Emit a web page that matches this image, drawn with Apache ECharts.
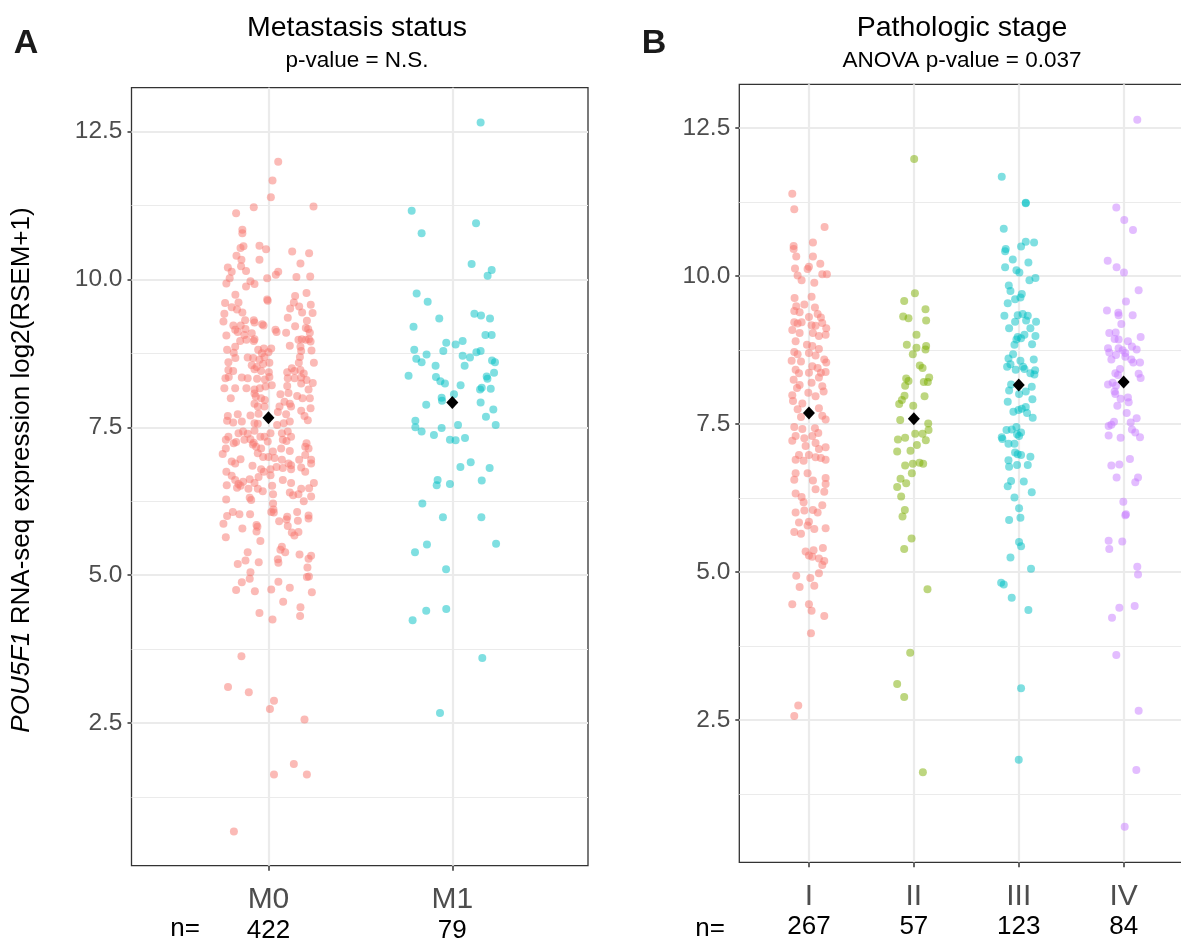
<!DOCTYPE html>
<html>
<head>
<meta charset="utf-8">
<script src="https://cdn.jsdelivr.net/npm/echarts@6/dist/echarts.min.js"></script>
<style>html,body{margin:0;padding:0;background:#fff}#c{width:1181px;height:941px}</style>
</head>
<body>
<div id="c"></div>
<script>
// ---------- DATA ----------
const categoriesA = ['M0', 'M1'];
const countsA = [422, 79];
const meansA = [7.66, 7.92];
const colorsA = ['#F8766D', '#00BFC4'];

const categoriesB = ['I', 'II', 'III', 'IV'];
const countsB = [267, 57, 123, 84];
const meansB = [7.69, 7.59, 8.16, 8.21];
const colorsB = ['#F8766D', '#7CAE00', '#00BFC4', '#C77CFF'];

const yTickValues = [2.5, 5, 7.5, 10, 12.5];
const yTickLabels = ['2.5', '5.0', '7.5', '10.0', '12.5'];
const yMinorValues = [1.25, 3.75, 6.25, 8.75, 11.25];

// [jitter offset, expression]
const m0Points = [
[0.053,11.99],[0.022,11.67],[0.013,11.39],[-0.080,11.22],[0.245,11.23],[-0.176,11.12],[-0.142,10.84],[-0.142,10.78],[-0.136,10.56],[-0.152,10.53],[-0.049,10.57],[-0.013,10.51],[0.129,10.47],[0.221,10.44],[-0.174,10.40],[-0.147,10.33],[-0.049,10.33],[0.174,10.27],[-0.149,10.22],[-0.221,10.20],[-0.122,10.14],[-0.200,10.13],[0.053,10.13],[0.040,10.08],[0.152,10.04],[0.227,10.05],[-0.007,10.02],[-0.211,10.02],[-0.229,9.93],[-0.098,9.97],[-0.076,9.92],[-0.122,9.88],[-0.180,9.74],[0.145,9.72],[0.207,9.77],[-0.163,9.61],[-0.007,9.66],[-0.004,9.64],[-0.236,9.60],[0.138,9.61],[0.167,9.54],[0.230,9.57],[-0.200,9.53],[-0.171,9.49],[-0.142,9.44],[0.118,9.51],[0.183,9.44],[0.240,9.43],[-0.240,9.42],[0.105,9.35],[-0.127,9.31],[-0.080,9.31],[-0.076,9.27],[-0.245,9.29],[0.209,9.30],[-0.191,9.22],[-0.151,9.22],[-0.034,9.24],[-0.027,9.22],[0.145,9.21],[0.038,9.15],[0.044,9.11],[0.203,9.18],[0.216,9.16],[-0.181,9.15],[-0.125,9.16],[-0.167,9.11],[0.096,9.10],[-0.229,9.05],[-0.131,9.06],[-0.091,9.09],[0.225,9.10],[-0.076,8.99],[-0.080,8.96],[0.181,8.99],[0.163,8.98],[0.203,8.98],[0.220,8.99],[0.229,8.95],[-0.154,8.96],[-0.120,8.98],[-0.181,8.86],[0.116,8.88],[-0.025,8.83],[0.015,8.83],[0.174,8.86],[-0.225,8.81],[-0.189,8.76],[-0.056,8.81],[-0.036,8.75],[0.000,8.77],[0.178,8.79],[0.234,8.80],[-0.022,8.69],[-0.113,8.68],[-0.083,8.67],[0.171,8.69],[-0.180,8.67],[-0.218,8.60],[-0.049,8.64],[0.005,8.59],[0.127,8.50],[0.165,8.59],[0.247,8.59],[-0.091,8.55],[-0.064,8.52],[-0.029,8.57],[-0.218,8.47],[-0.192,8.45],[-0.076,8.48],[-0.040,8.45],[0.002,8.43],[0.102,8.43],[0.142,8.45],[0.174,8.47],[0.192,8.41],[-0.234,8.33],[-0.216,8.35],[-0.145,8.34],[-0.113,8.33],[-0.062,8.32],[-0.020,8.31],[0.005,8.35],[0.105,8.33],[0.142,8.33],[0.178,8.34],[0.207,8.30],[0.241,8.25],[-0.240,8.16],[-0.181,8.16],[-0.120,8.16],[-0.076,8.14],[-0.047,8.16],[-0.016,8.19],[0.018,8.21],[0.102,8.20],[0.178,8.24],[0.218,8.14],[-0.205,7.99],[-0.076,8.07],[-0.069,8.02],[-0.040,7.99],[-0.020,7.96],[0.065,8.06],[0.109,8.08],[0.156,8.03],[0.185,7.99],[0.225,7.99],[-0.076,7.90],[-0.058,7.85],[-0.022,7.85],[0.087,7.93],[0.116,7.90],[0.123,7.85],[0.060,7.85],[0.229,7.82],[-0.221,7.69],[-0.167,7.72],[-0.098,7.70],[-0.054,7.73],[0.051,7.76],[0.096,7.72],[0.178,7.78],[0.196,7.69],
[-0.192,7.58],[-0.145,7.60],[-0.225,7.61],[-0.076,7.57],[-0.058,7.56],[0.047,7.54],[0.083,7.57],[0.116,7.60],[0.214,7.62],[-0.076,7.44],[-0.163,7.40],[-0.138,7.43],[-0.113,7.39],[-0.232,7.29],[-0.218,7.34],[-0.189,7.23],[-0.176,7.25],[-0.131,7.29],[-0.098,7.30],[-0.080,7.24],[-0.044,7.34],[-0.022,7.34],[0.011,7.40],[0.073,7.40],[0.105,7.43],[0.123,7.34],[0.078,7.29],[0.098,7.27],[-0.249,7.05],[-0.232,7.14],[-0.085,7.21],[-0.067,7.17],[-0.040,7.14],[-0.004,7.26],[0.024,7.09],[0.069,7.14],[0.116,7.10],[0.200,7.17],[0.207,7.23],[0.218,7.14],[-0.200,6.92],[-0.181,6.89],[-0.152,6.96],[-0.058,7.06],[-0.029,7.00],[0.000,7.00],[0.033,6.98],[0.073,6.95],[0.109,6.89],[0.167,6.95],[0.200,7.03],[0.232,6.95],[0.232,6.89],[-0.087,6.85],[-0.040,6.79],[-0.025,6.75],[0.011,6.79],[0.044,6.83],[0.078,6.81],[0.123,6.86],[0.123,6.79],[0.200,6.75],[0.178,6.82],[-0.229,6.75],[-0.200,6.68],[-0.054,6.66],[0.011,6.69],[-0.181,6.61],[-0.163,6.54],[-0.138,6.58],[-0.102,6.62],[-0.076,6.56],[0.078,6.61],[0.123,6.56],[0.247,6.56],[-0.227,6.52],[-0.171,6.48],[-0.152,6.51],[-0.109,6.46],[-0.058,6.46],[-0.031,6.42],[0.020,6.51],[0.116,6.40],[0.134,6.35],[0.178,6.46],[0.221,6.47],[0.163,6.37],[0.025,6.37],[-0.102,6.31],[-0.094,6.27],[0.232,6.33],[-0.230,6.28],[0.192,6.25],[0.025,6.21],[0.027,6.11],[0.015,6.07],[-0.225,6.00],[-0.194,6.07],[-0.158,6.03],[-0.100,6.03],[0.029,6.06],[0.102,5.99],[0.156,6.07],[0.218,6.01],[0.218,5.96],[-0.245,5.87],[0.058,5.91],[0.160,5.92],[0.098,5.94],[-0.065,5.85],[-0.060,5.82],[-0.142,5.79],[-0.065,5.74],[0.105,5.83],[0.127,5.72],[0.141,5.67],[0.163,5.73],[-0.232,5.64],[-0.044,5.58],[0.073,5.48],[0.065,5.43],[0.091,5.39],[-0.113,5.39],[0.169,5.35],[0.232,5.33],[0.218,5.28],[0.051,5.27],[0.054,5.21],[-0.167,5.19],[-0.125,5.25],[-0.053,5.22],[0.212,5.13],[-0.098,5.05],[-0.102,4.94],[0.209,4.97],[0.220,4.98],[-0.145,4.88],[0.054,4.89],[0.116,4.79],[-0.176,4.75],[-0.074,4.73],[0.015,4.76],[0.236,4.71],[0.080,4.55],[0.174,4.46],[-0.049,4.36],[0.172,4.31],[0.022,4.25],
[-0.147,3.63],[-0.220,3.11],[-0.107,3.02],[0.030,2.88],[0.008,2.74],[0.196,2.56],[0.138,1.81],[0.030,1.63],[0.209,1.63],[-0.188,0.67]
];

const m1Points = [
[0.154,12.65],[-0.221,11.16],[-0.167,10.78],[0.129,10.95],[0.105,10.26],[0.214,10.16],[0.192,10.06],[-0.194,9.76],[-0.134,9.62],[-0.211,9.20],[-0.071,9.34],[0.120,9.42],[0.156,9.39],[0.205,9.34],[0.180,9.06],[0.214,9.06],[-0.033,8.93],[0.018,8.90],[0.056,8.96],[-0.207,8.81],[-0.049,8.79],[0.131,8.77],[0.154,8.79],[-0.196,8.66],[-0.140,8.73],[-0.167,8.60],[0.056,8.71],[0.096,8.68],[0.067,8.54],[-0.091,8.54],[0.216,8.63],[0.232,8.60],[0.227,8.42],[-0.238,8.37],[-0.089,8.35],[-0.065,8.28],[-0.040,8.24],[0.187,8.36],[0.191,8.32],[0.160,8.17],[0.151,8.14],[0.209,8.15],[0.045,8.21],[-0.058,8.00],[-0.056,7.95],[0.009,8.06],[-0.142,7.88],[0.154,7.92],[0.223,7.80],[0.183,7.68],[0.236,7.54],[-0.201,7.61],[-0.201,7.50],[-0.167,7.43],[-0.100,7.37],[-0.058,7.49],[0.031,7.54],[-0.013,7.29],[0.018,7.28],[0.069,7.32],[0.044,6.83],[0.100,6.91],[0.203,6.81],[-0.080,6.61],[-0.085,6.52],[-0.013,6.54],[0.160,6.60],[-0.163,6.21],[-0.051,5.98],[0.158,5.98],[-0.138,5.52],[-0.203,5.39],[0.238,5.53],[-0.034,5.10],[-0.142,4.40],[-0.033,4.43],[-0.216,4.24],[0.163,3.60],[-0.067,2.67]
];

const stage1Points = [
[-0.159,11.39],[-0.140,11.13],[0.149,10.83],[0.038,10.57],[-0.146,10.51],[-0.146,10.46],[-0.121,10.33],[0.038,10.33],[0.108,10.21],[-0.133,10.13],[-0.013,10.12],[0.000,10.16],[-0.108,10.01],[0.127,10.03],[0.171,10.03],[-0.070,9.93],[0.051,9.89],[0.025,9.65],[-0.137,9.63],[-0.121,9.49],[-0.044,9.52],[0.057,9.47],[-0.140,9.41],[-0.089,9.39],[0.083,9.36],[0.000,9.31],[0.114,9.30],[-0.140,9.22],[-0.108,9.20],[-0.070,9.22],[0.025,9.17],[0.063,9.16],[0.127,9.21],[0.165,9.12],[-0.159,9.09],[-0.089,9.04],[0.038,9.04],[0.095,8.99],[0.159,9.01],[-0.127,8.90],[-0.019,8.84],[0.032,8.82],[0.095,8.77],[-0.140,8.72],[-0.108,8.68],[0.000,8.70],[0.063,8.66],[0.146,8.59],[0.165,8.54],[-0.165,8.57],[-0.076,8.56],[0.032,8.48],[0.083,8.45],[-0.127,8.42],[-0.095,8.36],[0.114,8.37],[0.159,8.38],[0.000,8.37],[0.095,8.29],[-0.146,8.25],[-0.089,8.16],[0.025,8.20],[0.127,8.14],[-0.114,8.11],[0.140,8.05],[-0.159,7.99],[-0.006,8.03],[0.063,7.97],[-0.152,7.89],[-0.063,7.85],[-0.108,7.75],[0.095,7.77],[0.127,7.64],[-0.076,7.62],[0.159,7.58],[-0.140,7.45],[-0.063,7.42],[0.057,7.43],[0.089,7.35],[-0.127,7.30],[-0.044,7.26],[0.032,7.30],[0.063,7.18],[-0.159,7.22],[-0.032,7.13],[0.095,7.08],[0.159,7.11],[-0.095,6.98],[0.000,6.98],[0.063,6.94],[-0.127,6.90],[-0.051,6.88],[0.114,6.93],[0.159,6.90],
[-0.127,6.67],[-0.013,6.67],[-0.140,6.56],[0.038,6.55],[0.159,6.59],[0.159,6.49],[0.063,6.40],[0.146,6.36],[-0.127,6.33],[-0.070,6.27],[-0.051,6.18],[-0.127,6.01],[-0.044,6.04],[0.038,6.05],[0.083,6.01],[0.127,6.13],[-0.095,5.84],[0.000,5.85],[-0.013,5.79],[0.051,5.73],[0.159,5.74],[-0.140,5.68],[-0.076,5.65],[-0.032,5.35],[0.044,5.37],[0.133,5.41],[0.000,5.28],[0.032,5.26],[0.095,5.23],[0.146,5.19],[0.127,5.12],[0.095,4.98],[-0.121,4.94],[0.013,4.90],[-0.089,4.75],[0.051,4.77],[-0.159,4.46],[0.000,4.46],[0.025,4.35],[0.146,4.26],[0.019,3.97],[-0.102,2.75],[-0.140,2.57]
];

const stage2Points = [
[0.003,11.98],[0.010,9.71],[-0.092,9.58],[0.111,9.44],[-0.102,9.32],[-0.051,9.29],[0.117,9.25],[0.025,9.01],[-0.067,8.84],[0.025,8.79],[0.117,8.82],[0.111,8.76],[-0.010,8.68],[0.057,8.49],[0.083,8.45],[-0.073,8.27],[-0.051,8.23],[0.146,8.29],[0.095,8.21],[0.133,8.21],[-0.083,8.15],[-0.089,7.98],[-0.114,7.91],[-0.140,7.84],[0.102,7.97],[-0.006,7.81],[-0.130,7.57],[0.137,7.51],[0.140,7.40],[0.013,7.34],[0.083,7.34],[-0.152,7.24],[-0.083,7.27],[0.114,7.23],[0.029,7.15],[-0.032,7.05],[-0.159,7.04],[-0.083,6.80],[-0.010,6.83],[0.054,6.85],[0.089,6.83],[-0.019,6.67],[-0.127,6.58],[-0.073,6.50],[-0.159,6.44],[-0.121,6.28],[-0.086,6.05],[-0.108,5.94],[-0.022,5.57],[-0.092,5.39],[0.130,4.71],[-0.035,3.64],[-0.159,3.11],[-0.092,2.89],[0.086,1.62]
];

const stage3Points = [
[-0.162,11.68],[0.067,11.23],[0.067,11.24],[-0.143,10.80],[-0.130,10.42],[-0.124,10.46],[0.022,10.50],[0.067,10.58],[0.146,10.57],[-0.057,10.28],[0.092,10.23],[-0.130,10.15],[-0.022,10.10],[0.006,10.06],[0.159,9.97],[0.102,9.93],[-0.095,9.84],[-0.079,9.75],[0.029,9.70],[-0.035,9.61],[0.016,9.64],[-0.105,9.54],[-0.137,9.33],[-0.010,9.34],[0.038,9.36],[0.070,9.25],[0.086,9.33],[0.165,9.23],[-0.035,9.23],[-0.092,9.12],[0.111,9.12],[-0.010,8.97],[-0.022,8.93],[0.022,8.95],[0.054,9.01],[0.159,8.99],[-0.041,8.84],[0.127,8.85],[-0.054,8.68],[-0.098,8.61],[0.016,8.57],[0.143,8.59],[-0.111,8.47],[-0.079,8.51],[-0.029,8.42],[0.041,8.47],[0.054,8.43],[0.111,8.36],[0.156,8.41],[0.149,8.34],[-0.073,8.17],[-0.092,8.07],[0.124,8.13],[0.067,8.05],[0.003,8.01],[-0.105,7.88],[0.130,7.92],[-0.051,7.71],[-0.003,7.74],[0.029,7.76],[0.067,7.79],[0.079,7.69],[0.133,7.61],[-0.117,7.40],[-0.067,7.41],[-0.022,7.45],[0.022,7.36],[-0.162,7.28],[-0.156,7.25],[-0.098,7.17],[-0.041,7.17],[0.003,7.30],[-0.016,7.33],[-0.035,7.02],[-0.010,6.99],[0.022,6.98],[0.111,6.95],[-0.098,6.89],[-0.092,6.78],[-0.016,6.81],[0.086,6.81],[-0.073,6.54],[-0.105,6.45],[0.048,6.53],[0.124,6.35],[-0.041,6.26],[0.003,6.08],[-0.092,5.88],[0.016,5.92],[0.003,5.51],[0.022,5.44],[-0.079,5.25],[0.117,5.06],[-0.168,4.82],[-0.143,4.79],[-0.067,4.57],[0.092,4.36],[0.022,3.04],[0.000,1.83]
];

const stage4Points = [
[0.130,12.64],[-0.070,11.16],[0.006,10.95],[0.089,10.78],[-0.152,10.26],[-0.067,10.15],[0.003,10.06],[0.143,9.76],[-0.159,9.42],[0.022,9.57],[-0.051,9.38],[-0.048,9.34],[0.086,9.34],[-0.022,9.19],[-0.137,9.04],[-0.076,9.05],[-0.086,8.94],[-0.048,8.93],[0.041,8.90],[0.162,8.97],[-0.149,8.78],[-0.137,8.71],[-0.048,8.78],[-0.010,8.75],[0.016,8.70],[0.079,8.81],[0.124,8.76],[-0.117,8.59],[-0.073,8.67],[0.016,8.64],[0.073,8.59],[0.092,8.54],[0.156,8.54],[-0.035,8.43],[-0.079,8.36],[-0.054,8.33],[0.143,8.35],[0.162,8.28],[-0.149,8.17],[-0.105,8.20],[-0.073,8.15],[-0.086,8.05],[-0.079,8.01],[-0.029,7.93],[0.041,7.95],[0.048,7.87],[-0.060,7.81],[0.029,7.69],[-0.092,7.54],[-0.143,7.47],[-0.117,7.49],[0.067,7.53],[0.124,7.60],[0.079,7.41],[0.111,7.36],[-0.143,7.31],[-0.029,7.27],[0.156,7.28],[0.060,6.91],[-0.117,6.80],[-0.041,6.82],[-0.067,6.60],[0.137,6.60],[0.111,6.52],[-0.003,6.19],[0.022,5.98],[0.016,5.96],[-0.143,5.53],[-0.137,5.39],[-0.013,5.52],[0.130,5.09],[0.137,4.96],[-0.041,4.40],[0.105,4.43],[-0.111,4.23],[-0.070,3.60],[0.143,2.66],[0.121,1.66],[0.010,0.70]
];

// ---------- CHART ----------
const FONT = "'Liberation Sans', Arial, Helvetica, sans-serif";
const chart = echarts.init(document.getElementById('c'), null, {renderer: 'canvas'});

const GRID_LINE = '#EBEBEB';
function gridMarkLine(nCats) {
  const d = [];
  yMinorValues.forEach(v => d.push({yAxis: v, lineStyle: {color: GRID_LINE, width: 1.2, type: 'solid'}}));
  yTickValues.forEach(v => d.push({yAxis: v, lineStyle: {color: GRID_LINE, width: 2.2, type: 'solid'}}));
  for (let i = 1; i <= nCats; i++) d.push({xAxis: i, lineStyle: {color: GRID_LINE, width: 2.2, type: 'solid'}});
  return {silent: true, symbol: 'none', animation: false, z: 1, label: {show: false}, emphasis: {disabled: true}, data: d};
}

function jitterSeries(points, catIndex, color, axisIdx) {
  return {
    type: 'scatter', xAxisIndex: axisIdx, yAxisIndex: axisIdx, z: 3,
    symbolSize: 8, silent: true,
    itemStyle: {color: color, opacity: 0.5},
    data: points.map(p => [catIndex + p[0], p[1]])
  };
}

function meanSeries(means, axisIdx) {
  return {
    type: 'scatter', xAxisIndex: axisIdx, yAxisIndex: axisIdx, z: 5,
    symbol: 'diamond', symbolSize: [12, 13], silent: true,
    itemStyle: {color: '#000', opacity: 1},
    data: means.map((m, i) => [i + 1, m])
  };
}

function xAxisDef(gridIdx, cats, counts, min, max) {
  const vals = cats.map((c, i) => i + 1);
  return {
    type: 'value', gridIndex: gridIdx, min: min, max: max,
    axisLine: {show: false},
    splitLine: {show: false},
    axisTick: {show: true, customValues: vals, length: 5, lineStyle: {color: '#333', width: 1.5}},
    axisLabel: {
      customValues: vals, margin: 17,
      formatter: v => { const i = Math.round(v) - 1; return '{c|' + cats[i] + '}\n{n|' + counts[i] + '}'; },
      rich: {
        c: {fontFamily: FONT, fontSize: 30, color: '#4D4D4D', lineHeight: 34, align: 'center'},
        n: {fontFamily: FONT, fontSize: 26, color: '#000', lineHeight: 28, align: 'center'}
      }
    }
  };
}

function yAxisDef(gridIdx, min, max) {
  return {
    type: 'value', gridIndex: gridIdx, min: min, max: max,
    axisLine: {show: false},
    splitLine: {show: false},
    axisTick: {show: true, customValues: yTickValues, length: 4, lineStyle: {color: '#333', width: 1.5}},
    axisLabel: {
      customValues: yTickValues, margin: 9,
      fontFamily: FONT, fontSize: 24.5, color: '#4D4D4D',
      formatter: v => { const i = yTickValues.findIndex(t => Math.abs(t - v) < 1e-6); return i >= 0 ? yTickLabels[i] : ''; }
    }
  };
}

const series = [];
series.push({type: 'scatter', xAxisIndex: 0, yAxisIndex: 0, data: [[-5, -5]], symbolSize: 0, silent: true, z: 1, markLine: gridMarkLine(2)});
series.push({type: 'scatter', xAxisIndex: 1, yAxisIndex: 1, data: [[-5, -5]], symbolSize: 0, silent: true, z: 1, markLine: gridMarkLine(4)});
series.push(jitterSeries(m0Points, 1, colorsA[0], 0));
series.push(jitterSeries(m1Points, 2, colorsA[1], 0));
[stage1Points, stage2Points, stage3Points, stage4Points].forEach((pts, i) => series.push(jitterSeries(pts, i + 1, colorsB[i], 1)));
series.push(meanSeries(meansA, 0));
series.push(meanSeries(meansB, 1));

function txt(x, y, text, size, opts) {
  return Object.assign({
    type: 'text', x: x, y: y, silent: true,
    style: Object.assign({text: text, fill: '#000', font: size + 'px ' + FONT,
      align: 'center', verticalAlign: 'middle', textAlign: 'center', textVerticalAlign: 'middle'}, (opts && opts.style) || {})
  }, (opts && opts.el) || {});
}

const option = {
  animation: false,
  backgroundColor: '#fff',
  grid: [
    {left: 131.5, top: 87.7, width: 456.5, height: 778, show: true, borderColor: '#333', borderWidth: 1.3, backgroundColor: 'transparent', outerBoundsMode: 'none', containLabel: false},
    {left: 739.3, top: 84.3, width: 454, height: 778, show: true, borderColor: '#333', borderWidth: 1.3, backgroundColor: 'transparent', outerBoundsMode: 'none', containLabel: false}
  ],
  xAxis: [
    xAxisDef(0, categoriesA, countsA, 0.255, 2.738),
    xAxisDef(1, categoriesB, countsB, 0.336, 4.664)
  ],
  yAxis: [
    yAxisDef(0, 0.09, 13.24),
    yAxisDef(1, 0.10, 13.24)
  ],
  series: series,
  graphic: [
    txt(26, 44, 'A', 34, {style: {font: 'bold 34px ' + FONT, fill: '#1a1a1a'}}),
    txt(654, 44, 'B', 34, {style: {font: 'bold 34px ' + FONT, fill: '#1a1a1a'}}),
    txt(357, 28, 'Metastasis status', 28.5),
    txt(357, 61, 'p-value = N.S.', 22.5),
    txt(962, 28, 'Pathologic stage', 28.5),
    txt(962, 61, 'ANOVA p-value = 0.037', 22.5),
    txt(185, 929, 'n=', 26),
    txt(710, 929, 'n=', 26),
    {
      type: 'text', x: 22, y: 470, rotation: Math.PI / 2, silent: true,
      style: {
        text: '{i|POU5F1} RNA-seq expression log2(RSEM+1)',
        font: '26px ' + FONT, fill: '#000',
        align: 'center', verticalAlign: 'middle', textAlign: 'center', textVerticalAlign: 'middle',
        rich: {i: {fontStyle: 'italic', fontFamily: FONT, fontSize: 26, fill: '#000', color: '#000'}}
      }
    }
  ]
};
chart.setOption(option);
</script>
</body>
</html>
